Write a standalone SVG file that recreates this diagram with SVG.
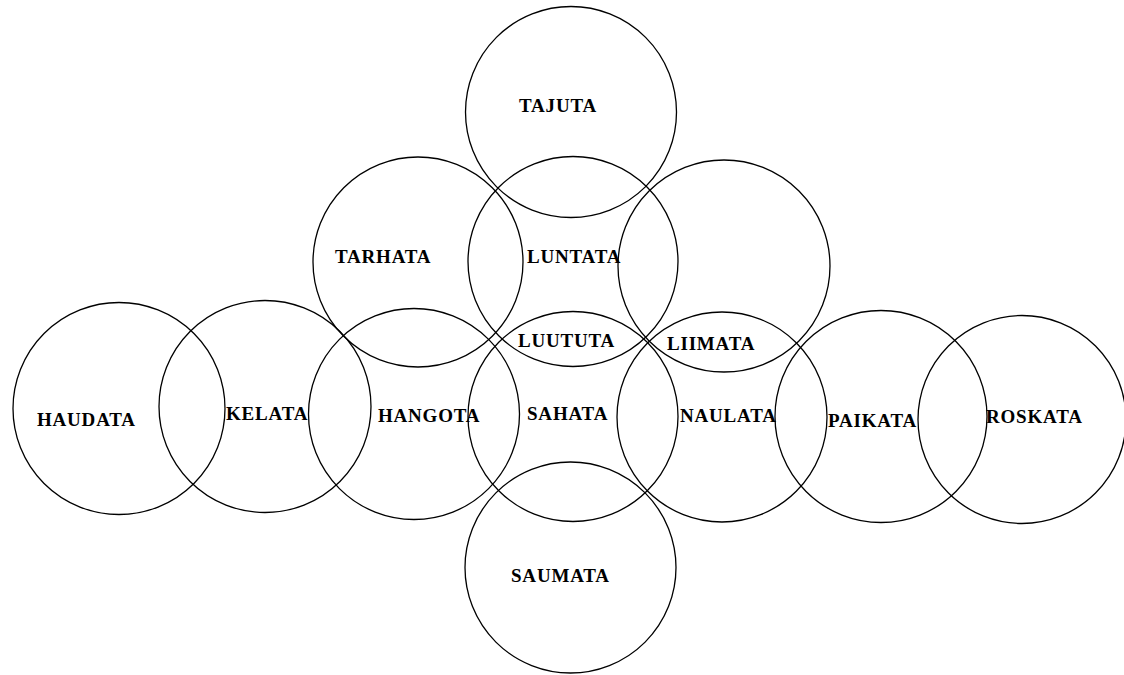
<svg xmlns="http://www.w3.org/2000/svg" width="1124" height="675" viewBox="0 0 1124 675">
<style>
.c{fill:none;stroke:#000;stroke-width:1.3}
.t{font-family:"Liberation Serif","Times New Roman",serif;font-weight:bold;font-size:19px;letter-spacing:0.8px;fill:#000}
</style>
<rect width="1124" height="675" fill="#fff"/>
<g id="tajuta"><circle class="c" cx="571" cy="112" r="105.5"/><text class="t" x="519" y="112">TAJUTA</text></g>
<g id="tarhata"><circle class="c" cx="418" cy="262" r="105"/><text class="t" x="335" y="263">TARHATA</text></g>
<g id="luntata"><circle class="c" cx="573" cy="261.5" r="105"/><text class="t" x="527" y="263">LUNTATA</text></g>
<g id="liimata"><circle class="c" cx="724" cy="266" r="106"/><text class="t" x="667" y="350">LIIMATA</text></g>
<g id="luututa"><text class="t" x="518" y="347">LUUTUTA</text></g>
<g id="haudata"><circle class="c" cx="119" cy="408.5" r="106"/><text class="t" x="37" y="426">HAUDATA</text></g>
<g id="kelata"><circle class="c" cx="265" cy="406.5" r="106"/><text class="t" x="226" y="420">KELATA</text></g>
<g id="hangota"><circle class="c" cx="414" cy="414" r="105.5"/><text class="t" x="378" y="422">HANGOTA</text></g>
<g id="sahata"><circle class="c" cx="573" cy="416.5" r="105"/><text class="t" x="527" y="420">SAHATA</text></g>
<g id="naulata"><circle class="c" cx="722" cy="417" r="105"/><text class="t" x="680" y="422">NAULATA</text></g>
<g id="paikata"><circle class="c" cx="881" cy="416.5" r="106"/><text class="t" x="828" y="427">PAIKATA</text></g>
<g id="roskata"><circle class="c" cx="1022" cy="419.5" r="104"/><text class="t" x="986" y="423">ROSKATA</text></g>
<g id="saumata"><circle class="c" cx="570.5" cy="567.5" r="105.5"/><text class="t" x="511" y="582">SAUMATA</text></g>
<g id="connectors"></g>
</svg>
